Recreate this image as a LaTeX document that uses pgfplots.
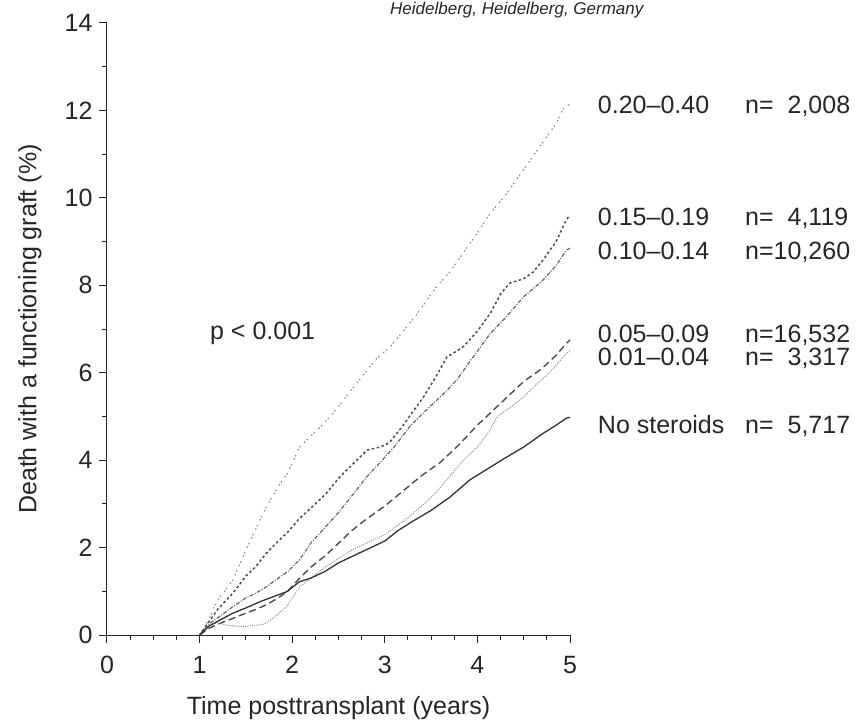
\documentclass[border=0pt]{standalone}
\usepackage{fontspec}
\setmainfont{Liberation Sans}
\usepackage{pgfplots}
\pgfplotsset{compat=1.18}
\begin{document}
\fontsize{25}{30}\selectfont
\begin{tikzpicture}
\useasboundingbox (-107pt,-86pt) rectangle (751pt,635pt);
\begin{axis}[
  at={(0pt,0pt)}, anchor=south west,
  scale only axis, width=463pt, height=612pt,
  xmin=0, xmax=5, ymin=0, ymax=14,
  clip=false,
  axis lines=left,
  axis line style={-, line width=1pt, black!85},
  xtick={0,1,2,3,4,5}, minor x tick num=3,
  ytick={0,2,4,6,8,10,12,14}, minor y tick num=1,
  tick align=outside,
  major tick length=8pt, minor tick length=5pt,
  every tick/.style={line width=1pt, black!85},
  /pgf/number format/assume math mode=true,
  ticklabel style={font=\fontsize{25}{30}\selectfont, black!85},
  xticklabel style={yshift=-5pt},
  yticklabel style={xshift=2pt},
  xlabel={Time posttransplant (years)},
  xlabel style={at={(axis description cs:0.5,0)}, anchor=base, yshift=-79pt, font=\fontsize{25}{30}\selectfont, black!85},
  ylabel={Death with a functioning graft (\%)},
  ylabel style={at={(axis description cs:-0.1663,0.5)}, anchor=center, font=\fontsize{25}{30}\selectfont, black!85},
]
% 0.20-0.40
\addplot[black!45, line width=1.2pt, dash pattern=on 1.5pt off 2pt on 1.5pt off 5pt] coordinates {
(1,0) (1.1,0.35) (1.18,0.76) (1.27,1.0) (1.36,1.26) (1.47,1.8) (1.6,2.4) (1.72,2.93) (1.85,3.4) (1.95,3.7) (2.08,4.3) (2.2,4.55) (2.3,4.75) (2.44,5.07) (2.6,5.5) (2.75,5.9) (2.9,6.3) (3.06,6.6) (3.2,6.95) (3.35,7.35) (3.56,7.97) (3.7,8.3) (3.85,8.75) (4.0,9.2) (4.14,9.65) (4.3,10.05) (4.45,10.5) (4.6,10.95) (4.75,11.4) (4.85,11.7) (4.93,12.05) (5.0,12.15)
};
% 0.15-0.19
\addplot[black!70, line width=1.5pt, dash pattern=on 2.5pt off 2.5pt] coordinates {
(1,0) (1.1,0.3) (1.2,0.6) (1.36,0.96) (1.5,1.35) (1.6,1.55) (1.72,1.87) (1.85,2.15) (1.95,2.35) (2.08,2.67) (2.2,2.9) (2.35,3.2) (2.52,3.63) (2.65,3.9) (2.81,4.23) (2.95,4.3) (3.05,4.4) (3.2,4.8) (3.3,5.1) (3.42,5.45) (3.55,5.9) (3.67,6.36) (3.78,6.5) (3.85,6.6) (4.0,6.95) (4.14,7.36) (4.25,7.8) (4.35,8.05) (4.5,8.15) (4.6,8.3) (4.71,8.58) (4.85,9.0) (4.96,9.5) (5.0,9.6)
};
% 0.10-0.14
\addplot[black!60, line width=1.2pt, dash pattern=on 4pt off 1.5pt on 1pt off 1.5pt] coordinates {
(1,0) (1.1,0.25) (1.2,0.4) (1.36,0.65) (1.5,0.85) (1.6,0.95) (1.72,1.1) (1.85,1.3) (1.95,1.45) (2.08,1.72) (2.2,2.1) (2.35,2.45) (2.5,2.8) (2.65,3.2) (2.81,3.63) (2.95,3.95) (3.1,4.3) (3.27,4.77) (3.4,5.05) (3.55,5.35) (3.65,5.55) (3.78,5.84) (3.95,6.35) (4.14,6.9) (4.3,7.25) (4.5,7.74) (4.7,8.1) (4.85,8.45) (4.96,8.8) (5.0,8.85)
};
% 0.05-0.09
\addplot[black!70, line width=1.4pt, dash pattern=on 7pt off 4pt] coordinates {
(1,0) (1.1,0.15) (1.2,0.25) (1.36,0.38) (1.5,0.5) (1.6,0.58) (1.72,0.69) (1.85,0.85) (1.95,1.0) (2.08,1.3) (2.2,1.55) (2.35,1.8) (2.5,2.1) (2.65,2.4) (2.8,2.65) (3.0,2.95) (3.2,3.3) (3.4,3.65) (3.6,3.95) (3.8,4.35) (4.0,4.8) (4.15,5.1) (4.3,5.4) (4.5,5.8) (4.7,6.1) (4.85,6.4) (4.96,6.67) (5.0,6.75)
};
% 0.01-0.04
\addplot[black!45, line width=1pt, dash pattern=on 1pt off 1.2pt] coordinates {
(1,0) (1.05,0.1) (1.12,0.25) (1.2,0.28) (1.3,0.22) (1.4,0.2) (1.5,0.2) (1.6,0.22) (1.7,0.25) (1.8,0.4) (1.94,0.65) (2.08,1.1) (2.2,1.3) (2.35,1.55) (2.5,1.75) (2.65,1.95) (2.8,2.1) (3.0,2.3) (3.2,2.6) (3.4,2.95) (3.55,3.25) (3.7,3.63) (3.85,4.0) (4.0,4.3) (4.14,4.7) (4.21,4.99) (4.35,5.2) (4.5,5.45) (4.65,5.75) (4.8,6.05) (4.96,6.44) (5.0,6.5)
};
% No steroids
\addplot[black!80, line width=1.3pt] coordinates {
(1,0) (1.1,0.2) (1.2,0.32) (1.36,0.5) (1.5,0.62) (1.65,0.76) (1.8,0.88) (1.94,0.99) (2.08,1.22) (2.2,1.3) (2.35,1.45) (2.5,1.65) (2.65,1.8) (2.8,1.95) (3.0,2.15) (3.15,2.4) (3.3,2.6) (3.5,2.85) (3.7,3.15) (3.92,3.55) (4.14,3.84) (4.3,4.05) (4.5,4.3) (4.7,4.6) (4.85,4.8) (4.96,4.96) (5.0,4.98)
};
\begin{scope}[every node/.style={inner sep=0pt, anchor=base west, text=black!85, font=\fontsize{25}{30}\selectfont}]
\node at (axis cs:5.30,11.92) {0.20\textendash0.40};
\node at (axis cs:6.89,11.92) {n=\phantom{0}2,008};
\node at (axis cs:5.30,9.36) {0.15\textendash0.19};
\node at (axis cs:6.89,9.36) {n=\phantom{0}4,119};
\node at (axis cs:5.30,8.60) {0.10\textendash0.14};
\node at (axis cs:6.89,8.60) {n=10,260};
\node at (axis cs:5.30,6.70) {0.05\textendash0.09};
\node at (axis cs:6.89,6.70) {n=16,532};
\node at (axis cs:5.30,6.16) {0.01\textendash0.04};
\node at (axis cs:6.89,6.16) {n=\phantom{0}3,317};
\node at (axis cs:5.30,4.60) {No steroids};
\node at (axis cs:6.89,4.60) {n=\phantom{0}5,717};
\node at (axis cs:1.112,6.77) {p < 0.001};
\node[font=\fontsize{17}{20}\selectfont\itshape] at (axis cs:3.056,14.19) {Heidelberg, Heidelberg, Germany};
\end{scope}
\end{axis}
\end{tikzpicture}
\end{document}
